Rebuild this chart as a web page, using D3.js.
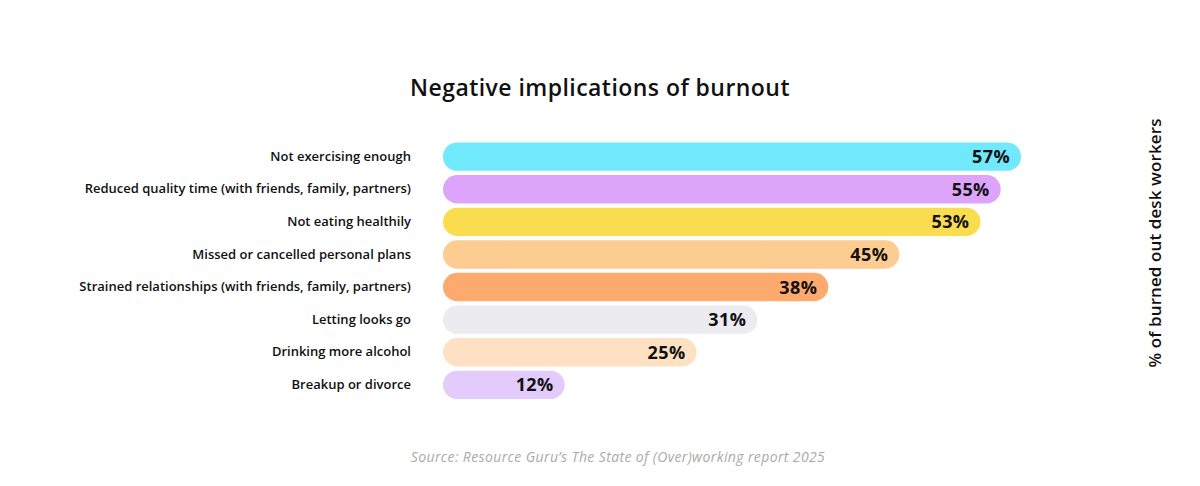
<!DOCTYPE html>
<html>
<head>
<meta charset="utf-8">
<script src="https://cdn.jsdelivr.net/npm/d3@7"></script>
<style>
  body { margin: 0; background: #fff; }
  svg text { font-family: "Open Sans", "Noto Sans", sans-serif; }
</style>
</head>
<body>
<div id="chart"></div>
<script>
// chart data
var categories = [
    "Not exercising enough",
    "Reduced quality time (with friends, family, partners)",
    "Not eating healthily",
    "Missed or cancelled personal plans",
    "Strained relationships (with friends, family, partners)",
    "Letting looks go",
    "Drinking more alcohol",
    "Breakup or divorce"
];
var values = [57, 55, 53, 45, 38, 31, 25, 12];
var barColors = ["#70e9fc", "#dea4fb", "#fadd4f", "#fdcc91", "#fea96e", "#ebebf0", "#fee1c3", "#e3ccfc"];

var svgWidth = 1200;
var svgHeight = 486;

var svg = d3.select("#chart")
    .append("svg")
    .attr("width", svgWidth)
    .attr("height", svgHeight);

// scales
var xScale = d3.scaleLinear()
    .domain([0, 57])
    .range([443, 1021]);

var yScale = d3.scaleBand()
    .domain(categories)
    .range([140.5, 401])
    .paddingInner(0.13)
    .paddingOuter(0.06);

var bh = yScale.bandwidth();

// title
svg.append("text")
    .attr("x", 600)
    .attr("y", 96)
    .attr("text-anchor", "middle")
    .attr("font-size", 23)
    .attr("font-weight", 600)
    .attr("letter-spacing", 0.45)
    .attr("fill", "#111")
    .text("Negative implications of burnout");

// bars
svg.append("g").selectAll("rect")
    .data(values)
    .enter()
    .append("rect")
    .attr("x", xScale(0))
    .attr("y", (d, i) => yScale(categories[i]))
    .attr("width", d => xScale(d) - xScale(0))
    .attr("height", bh)
    .attr("rx", bh / 2)
    .attr("fill", (d, i) => barColors[i]);

// value labels
svg.append("g").selectAll("text")
    .data(values)
    .enter()
    .append("text")
    .attr("x", d => xScale(d) - 11)
    .attr("y", (d, i) => yScale(categories[i]) + bh / 2)
    .attr("dy", "0.36em")
    .attr("text-anchor", "end")
    .attr("font-size", 18)
    .attr("font-weight", 700)
    .attr("letter-spacing", 0.4)
    .attr("fill", "#111")
    .text(d => d + "%");

// category labels (left axis)
var leftAxis = d3.axisLeft(yScale).tickSize(0).tickPadding(0);
var yAxis = svg.append("g")
    .attr("transform", "translate(411, 0)")
    .call(leftAxis);
yAxis.select(".domain").remove();
yAxis.selectAll("text")
    .attr("font-family", "'Open Sans', sans-serif")
    .attr("font-size", 13)
    .attr("font-weight", 600)
    .attr("fill", "#111");

// right side label
svg.append("text")
    .attr("transform", "translate(1161, 243) rotate(-90)")
    .attr("text-anchor", "middle")
    .attr("font-size", 17)
    .attr("font-weight", 600)
    .attr("letter-spacing", 0.1)
    .attr("fill", "#111")
    .text("% of burned out desk workers");

// source note
svg.append("text")
    .attr("x", 618)
    .attr("y", 462)
    .attr("text-anchor", "middle")
    .attr("font-size", 14)
    .attr("font-style", "italic")
    .attr("letter-spacing", 0.38)
    .attr("fill", "#aaa")
    .text("Source: Resource Guru\u2019s The State of (Over)working report 2025");
</script>
</body>
</html>
